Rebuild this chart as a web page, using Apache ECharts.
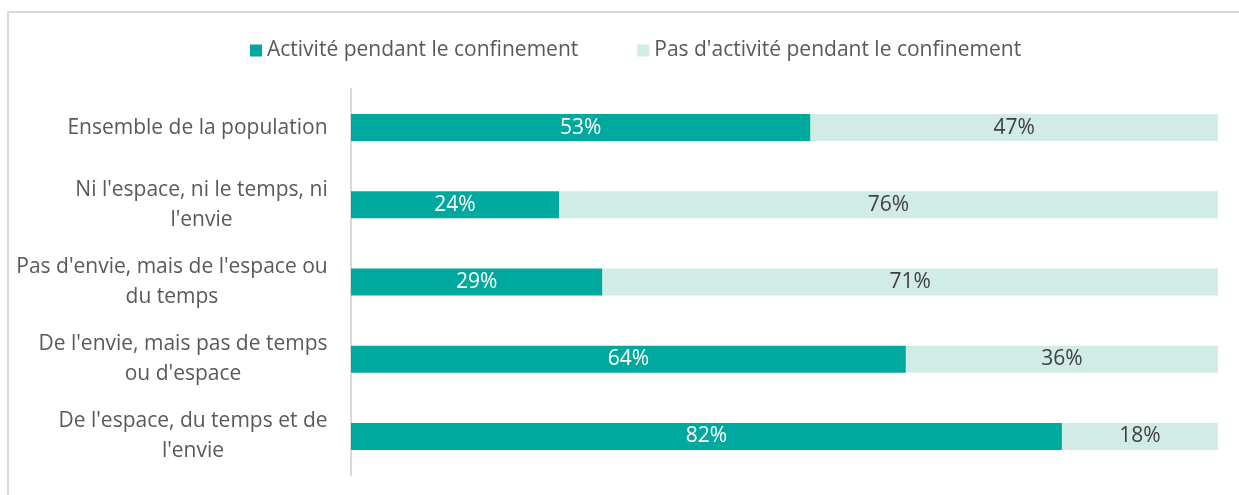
<!DOCTYPE html>
<html>
<head>
<meta charset="utf-8">
<script src="https://cdn.jsdelivr.net/npm/echarts@6/dist/echarts.min.js"></script>
<style>
  html, body { margin: 0; padding: 0; background: #fff; }
  #chart { width: 1239px; height: 495px; }
</style>
</head>
<body>
<div id="chart"></div>
<script>
const categories = [
  'Ensemble de la population',
  'Ni l\'espace, ni le temps, ni\nl\'envie',
  'Pas d\'envie, mais de l\'espace ou\ndu temps',
  'De l\'envie, mais pas de temps\nou d\'espace',
  'De l\'espace, du temps et de\nl\'envie'
]
const activite = [53, 24, 29, 64, 82]
const pasActivite = [47, 76, 71, 36, 18]
const seriesNames = ['Activité pendant le confinement', 'Pas d\'activité pendant le confinement']

const font = 'Open Sans'
const fontSize = 21

// lines of each label are centred inside a block that is right-aligned to the axis
const ctx = document.createElement('canvas').getContext('2d')
ctx.font = fontSize + 'px "' + font + '"'
const blockWidth = (label) => Math.ceil(Math.max(...label.split('\n').map(l => ctx.measureText(l).width)))

const labelRich = {}
categories.forEach((c, i) => {
  labelRich['w' + i] = {
    color: '#595959',
    fontSize: fontSize,
    fontFamily: font,
    lineHeight: 30,
    width: blockWidth(c),
    align: 'center'
  }
})

const chart = echarts.init(document.getElementById('chart'))
const option = {
  textStyle: { fontFamily: font },
  color: ['#00a99d', '#d1ebe7'],
  graphic: [
    {
      type: 'rect',
      shape: { x: 8, y: 12, width: 1260, height: 520 },
      style: { fill: 'none', stroke: '#d9d9d9', lineWidth: 2 },
      silent: true
    }
  ],
  legend: {
    top: 35,
    left: 245,
    itemWidth: 12,
    itemHeight: 12,
    itemGap: 59,
    icon: 'rect',
    textStyle: { color: '#595959', fontSize: fontSize, fontFamily: font },
    data: seriesNames
  },
  grid: {
    left: 351,
    right: 21,
    top: 89,
    bottom: 20,
    containLabel: false
  },
  xAxis: {
    type: 'value',
    min: 0,
    max: 100,
    show: false
  },
  yAxis: {
    type: 'category',
    inverse: true,
    data: categories,
    axisLine: { show: true, lineStyle: { color: '#d9d9d9', width: 2 } },
    axisTick: { show: false },
    axisLabel: {
      color: '#595959',
      fontSize: fontSize,
      fontFamily: font,
      align: 'right',
      margin: 23,
      formatter: (value, idx) => value.split('\n').map(l => '{w' + idx + '|' + l + '}').join('\n'),
      rich: labelRich
    }
  },
  series: [
    {
      name: seriesNames[0],
      type: 'bar',
      stack: 'total',
      barWidth: 27,
      data: activite,
      label: {
        show: true,
        position: 'inside',
        color: '#ffffff',
        fontSize: fontSize,
        fontFamily: font,
        formatter: '{c}%'
      }
    },
    {
      name: seriesNames[1],
      type: 'bar',
      stack: 'total',
      barWidth: 27,
      data: pasActivite,
      label: {
        show: true,
        position: 'inside',
        color: '#404040',
        fontSize: fontSize,
        fontFamily: font,
        formatter: '{c}%'
      }
    }
  ]
}
chart.setOption(option)
</script>
</body>
</html>
